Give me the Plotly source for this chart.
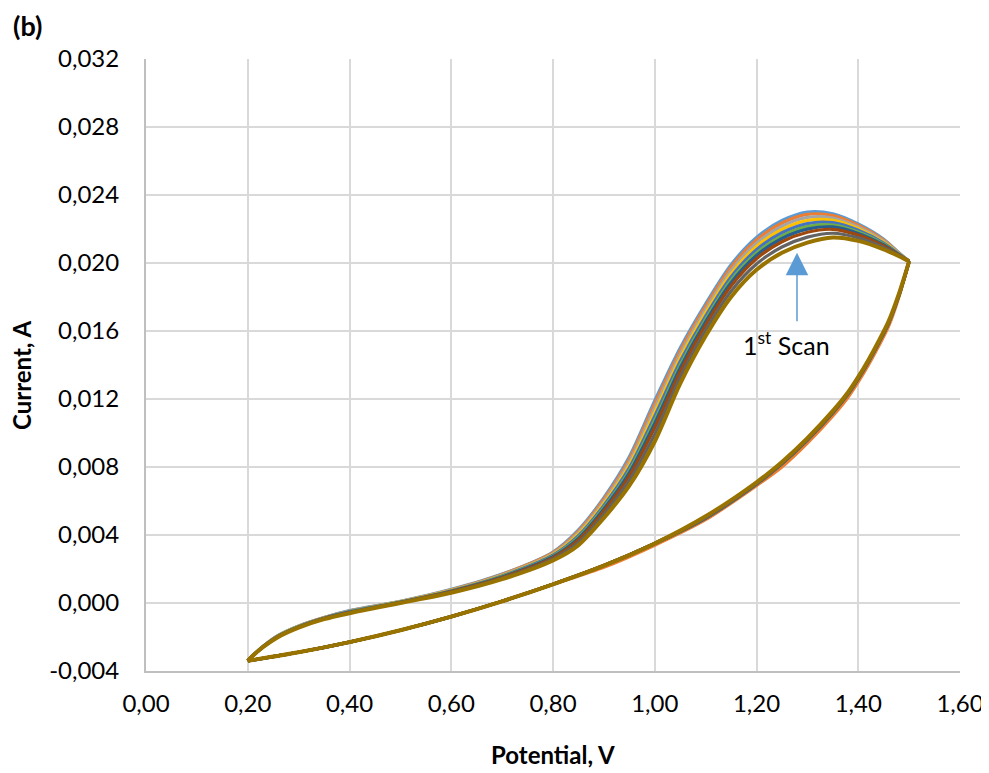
import plotly.graph_objects as go

# ---------------- data ----------------
series_names = ["Scan 1", "Scan 2", "Scan 3", "Scan 4", "Scan 5",
                "Scan 6", "Scan 7", "Scan 8", "Scan 9", "Scan 10"]
series_colors = ["#5B9BD5", "#ED7D31", "#A5A5A5", "#FFC000", "#4472C4",
                 "#70AD47", "#255E91", "#9E480E", "#636363", "#997300"]

# forward (anodic) sweep potentials, V
upper_x = [0.20, 0.21, 0.23, 0.26, 0.30, 0.35, 0.40, 0.50, 0.60, 0.70, 0.80, 0.85, 0.90,
           0.95, 1.00, 1.05, 1.10, 1.15, 1.20, 1.25, 1.30, 1.35, 1.40, 1.45, 1.48, 1.50]

upper_s1 = [-0.0034, -0.0031, -0.00255, -0.0019, -0.00135, -0.00085, -0.00045, 0.0001, 0.0008, 0.0017, 0.0030, 0.0043, 0.0062,
            0.0086, 0.0119, 0.0150, 0.0176, 0.0199, 0.0215, 0.0225, 0.0230, 0.0229, 0.0223, 0.0214, 0.0206, 0.0201]
upper_s2 = [-0.0034, -0.0031, -0.00256, -0.00191, -0.00136, -0.00086, -0.00047, 0.00009, 0.00078, 0.00168, 0.00296, 0.00423, 0.00610,
            0.00846, 0.01171, 0.01483, 0.01745, 0.01975, 0.02135, 0.02235, 0.02286, 0.02279, 0.02222, 0.02135, 0.02058, 0.0201]
upper_s3 = [-0.0034, -0.0031, -0.00256, -0.00192, -0.00137, -0.00087, -0.00048, 0.00008, 0.00076, 0.00165, 0.00291, 0.00414, 0.00598,
            0.00829, 0.01147, 0.01462, 0.01726, 0.01956, 0.02116, 0.02216, 0.02268, 0.02265, 0.02212, 0.02129, 0.02056, 0.0201]
upper_s4 = [-0.0034, -0.0031, -0.00257, -0.00193, -0.00138, -0.00088, -0.00050, 0.00007, 0.00074, 0.00162, 0.00286, 0.00405, 0.00586,
            0.00812, 0.01123, 0.01441, 0.01707, 0.01937, 0.02097, 0.02197, 0.02250, 0.02251, 0.02202, 0.02123, 0.02054, 0.0201]
upper_s5 = [-0.0034, -0.0031, -0.00257, -0.00194, -0.00139, -0.00089, -0.00051, 0.00006, 0.00072, 0.00159, 0.00281, 0.00396, 0.00574,
            0.00795, 0.01099, 0.01420, 0.01688, 0.01918, 0.02078, 0.02178, 0.02232, 0.02237, 0.02192, 0.02117, 0.02052, 0.0201]
upper_s6 = [-0.0034, -0.0031, -0.00258, -0.00195, -0.00140, -0.00090, -0.00053, 0.00005, 0.00070, 0.00156, 0.00276, 0.00387, 0.00562,
            0.00778, 0.01075, 0.01399, 0.01669, 0.01899, 0.02059, 0.02159, 0.02214, 0.02223, 0.02182, 0.02111, 0.02050, 0.0201]
upper_s7 = [-0.0034, -0.0031, -0.00258, -0.00196, -0.00141, -0.00091, -0.00054, 0.00004, 0.00069, 0.00153, 0.00272, 0.00380, 0.00553,
            0.00765, 0.01056, 0.01382, 0.01654, 0.01884, 0.02044, 0.02144, 0.02199, 0.02212, 0.02174, 0.02106, 0.02049, 0.0201]
upper_s8 = [-0.0034, -0.0031, -0.00259, -0.00197, -0.00142, -0.00092, -0.00056, 0.00003, 0.00067, 0.00150, 0.00267, 0.00371, 0.00541,
            0.00748, 0.01032, 0.01361, 0.01635, 0.01865, 0.02025, 0.02125, 0.02181, 0.02198, 0.02164, 0.02100, 0.02047, 0.0201]
upper_s9 = [-0.0034, -0.0031, -0.00259, -0.00198, -0.00143, -0.00093, -0.00058, 0.00002, 0.00064, 0.00145, 0.00259, 0.00356, 0.00522,
            0.00721, 0.00993, 0.01328, 0.01604, 0.01834, 0.01994, 0.02094, 0.02152, 0.02175, 0.02148, 0.02091, 0.02044, 0.0201]
upper_s10 = [-0.0034, -0.0031, -0.0026, -0.0020, -0.00145, -0.00095, -0.0006, 0.0000, 0.0006, 0.0014, 0.0025, 0.0034, 0.0050,
             0.0069, 0.0095, 0.0129, 0.0157, 0.0180, 0.0196, 0.0206, 0.0212, 0.0215, 0.0213, 0.0208, 0.0204, 0.0201]

# reverse sweep potentials, V
lower_x = [1.50, 1.48, 1.46, 1.44, 1.42, 1.40, 1.38, 1.35, 1.30, 1.25, 1.20, 1.10,
           1.00, 0.90, 0.80, 0.70, 0.60, 0.50, 0.40, 0.30, 0.25, 0.20]
lower_orange = [0.0201, 0.0180, 0.0163, 0.0151, 0.0140, 0.0130, 0.0121, 0.0110, 0.0094, 0.0080, 0.0069, 0.0049,
                0.0034, 0.0021, 0.0011, 0.0001, -0.0008, -0.0016, -0.0023, -0.0029, -0.00315, -0.0034]
lower_mid = [0.0201, 0.0181, 0.0165, 0.0153, 0.0142, 0.0132, 0.0123, 0.0112, 0.0096, 0.0082, 0.0070, 0.0050,
             0.0035, 0.0022, 0.0011, 0.0001, -0.0008, -0.0016, -0.0023, -0.0029, -0.00315, -0.0034]
lower_s10 = [0.0201, 0.0182, 0.0166, 0.0154, 0.0143, 0.0133, 0.0124, 0.0113, 0.0097, 0.0083, 0.0071, 0.0051,
             0.0035, 0.0022, 0.0011, 0.0001, -0.0008, -0.0016, -0.0023, -0.0029, -0.00315, -0.0034]

upper_all = [upper_s1, upper_s2, upper_s3, upper_s4, upper_s5,
             upper_s6, upper_s7, upper_s8, upper_s9, upper_s10]
lower_all = [lower_mid, lower_orange, lower_mid, lower_mid, lower_mid,
             lower_mid, lower_mid, lower_mid, lower_mid, lower_s10]

x_tick_vals = [0.0, 0.2, 0.4, 0.6, 0.8, 1.0, 1.2, 1.4, 1.6]
x_tick_text = ["0,00", "0,20", "0,40", "0,60", "0,80", "1,00", "1,20", "1,40", "1,60"]
y_tick_vals = [-0.004, 0.0, 0.004, 0.008, 0.012, 0.016, 0.020, 0.024, 0.028, 0.032]
y_tick_text = ["-0,004", "0,000", "0,004", "0,008", "0,012", "0,016", "0,020", "0,024", "0,028", "0,032"]

# ---------------- figure ----------------
FONT = "Lato, 'Open Sans', sans-serif"
fig = go.Figure()

for name, col, up, lo in zip(series_names, series_colors, upper_all, lower_all):
    w = 4 if col == "#997300" else 3.2
    fig.add_trace(go.Scatter(x=upper_x, y=up, mode="lines", name=name,
                             line=dict(color=col, width=w, shape="spline", smoothing=0.8),
                             showlegend=False, hoverinfo="skip"))
    fig.add_trace(go.Scatter(x=lower_x, y=lo, mode="lines", name=name,
                             line=dict(color=col, width=w, shape="spline", smoothing=0.8),
                             showlegend=False, hoverinfo="skip"))

# the page body has an 8px margin: offset margins to compensate
fig.update_layout(
    width=981, height=765,
    margin=dict(l=138, r=29, t=51, b=102, autoexpand=False),
    paper_bgcolor="white", plot_bgcolor="white",
    font=dict(family=FONT, size=24, color="black"),
    showlegend=False,
)
fig.update_xaxes(range=[0, 1.6], tickvals=x_tick_vals, ticktext=x_tick_text,
                 showgrid=True, gridcolor="#D9D9D9", gridwidth=2,
                 showline=True, linecolor="#BFBFBF", linewidth=2,
                 zeroline=False, ticks="", ticklabelstandoff=10, automargin=False,
                 ticklabeloverflow="allow",
                 tickfont=dict(family=FONT, size=24, color="black"))
fig.update_yaxes(range=[-0.004, 0.032], tickvals=y_tick_vals, ticktext=y_tick_text,
                 showgrid=True, gridcolor="#D9D9D9", gridwidth=2,
                 showline=True, linecolor="#BFBFBF", linewidth=2,
                 zeroline=False, ticks="", ticklabelstandoff=20, automargin=False,
                 tickfont=dict(family=FONT, size=24, color="black"))

# axis titles and panel label
fig.add_annotation(text="<b>Potential, V</b>", xref="paper", yref="paper",
                   x=0.5, y=-0.137, xanchor="center", yanchor="middle",
                   showarrow=False, font=dict(family=FONT, size=24, color="black"))
fig.add_annotation(text="<b>Current, A</b>", xref="paper", yref="paper",
                   x=-0.152, y=0.484, xanchor="center", yanchor="middle", textangle=-90,
                   showarrow=False, font=dict(family=FONT, size=24, color="black"))
fig.add_annotation(text="<b>(b)</b>", xref="paper", yref="paper",
                   x=-0.166, y=1.054, xanchor="left", yanchor="middle",
                   showarrow=False, font=dict(family=FONT, size=27, color="black"))

# 1st scan label with arrow
fig.add_annotation(text="", x=1.2796, y=0.0206, xref="x", yref="y",
                   showarrow=True, ax=0, ay=70, axref="pixel", ayref="pixel",
                   arrowhead=2, arrowsize=3.0, arrowwidth=1.5, arrowcolor="#5B9BD5",
                   standoff=0, startstandoff=0)
fig.add_annotation(text="1<sup>st</sup> Scan", x=1.258, y=0.01525, xref="x", yref="y",
                   xanchor="center", yanchor="middle", showarrow=False,
                   font=dict(family=FONT, size=25, color="black"))

fig.write_html("out.html")
